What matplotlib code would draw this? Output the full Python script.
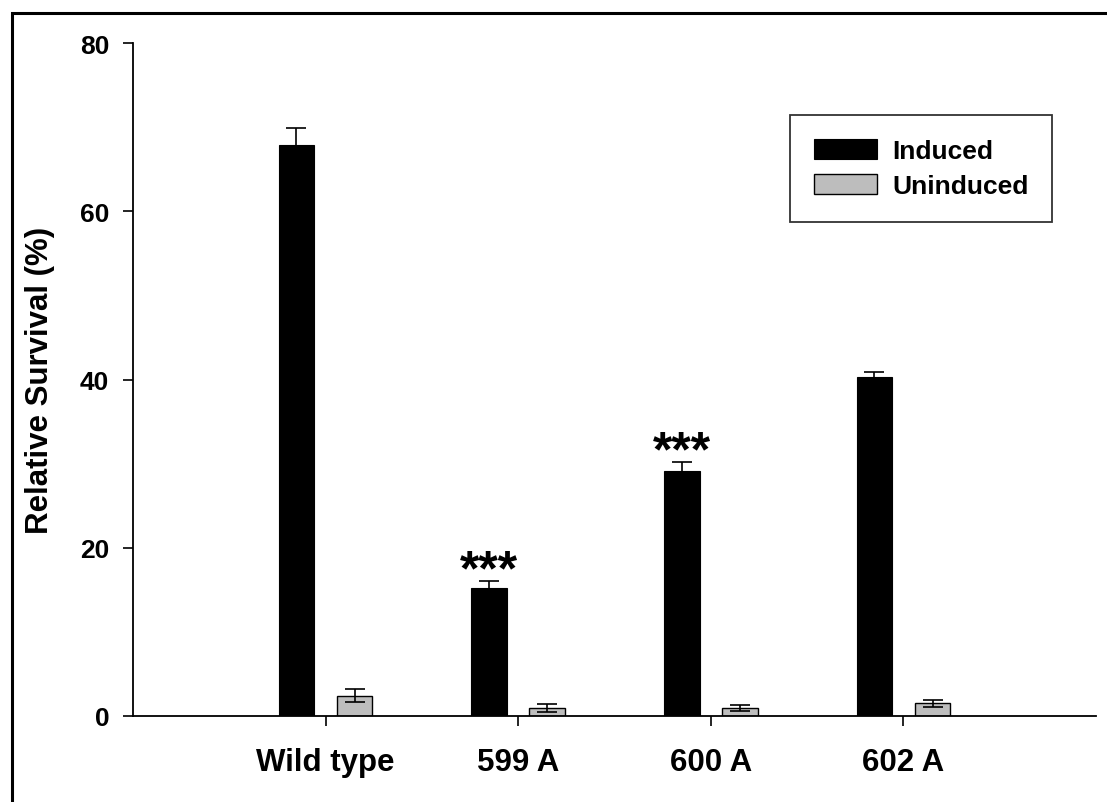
# Bar chart of relative survival (induced vs uninduced) with error bars.
import numpy as np
import matplotlib.pyplot as plt
from matplotlib.patches import Rectangle

plt.rcParams['font.family'] = ['Liberation Sans', 'DejaVu Sans']
plt.rcParams['font.weight'] = 'bold'

# data
strains = ['Wild type', '599 A', '600 A', '602 A']
induced = [67.9, 15.2, 29.1, 40.3]
induced_err = [2.0, 0.8, 1.1, 0.6]
uninduced = [2.4, 0.95, 0.95, 1.5]
uninduced_err = [0.75, 0.5, 0.4, 0.4]
stars = ['', '***', '***', '']

x = np.arange(len(strains))
w = 0.185   # bar width
off = 0.151 # offset of each bar from the tick

fig = plt.figure(figsize=(11.07, 8.03), dpi=100)
ax = fig.add_axes([0.1201, 0.1071, 0.8700, 0.8381])

ax.bar(x - off, induced, w, color='black', edgecolor='black', lw=0.8, label='Induced', zorder=2)
ax.bar(x + off, uninduced, w, color='#bdbdbd', edgecolor='black', lw=1.0, label='Uninduced', zorder=2)
ax.errorbar(x - off, induced, yerr=induced_err, fmt='none', ecolor='black', elinewidth=1.2, capsize=7.5, capthick=1.2, zorder=3)
ax.errorbar(x + off, uninduced, yerr=uninduced_err, fmt='none', ecolor='black', elinewidth=1.2, capsize=7.5, capthick=1.2, zorder=3)

# significance stars above the induced bars
for i, s in enumerate(stars):
    if s:
        ax.text(x[i] - off, induced[i] + induced_err[i] - 0.4, s, ha='center', va='baseline',
                fontsize=36, fontweight='bold')

ax.set_xlim(-1, 4)
ax.set_ylim(0, 80)
ax.set_yticks([0, 20, 40, 60, 80])
ax.set_xticks(x)
ax.set_xticklabels(strains, fontsize=22.5, fontweight='bold')
ax.tick_params(axis='y', labelsize=19, direction='out', length=7, width=1.2, pad=10)
ax.tick_params(axis='x', direction='out', length=7, width=1.2, pad=15)
ax.set_ylabel('Relative Survival (%)', fontsize=22.5, fontweight='bold', labelpad=18)

for side in ['top', 'right']:
    ax.spines[side].set_visible(False)
for side in ['left', 'bottom']:
    ax.spines[side].set_linewidth(1.3)

leg = ax.legend(loc='upper left', bbox_to_anchor=(790 / 1107, 1 - 116 / 803), bbox_transform=fig.transFigure,
                fontsize=19, frameon=True, fancybox=False, edgecolor='black',
                handlelength=2.4, handleheight=0.8, borderpad=0.9, labelspacing=0.42,
                handletextpad=0.57, borderaxespad=0)
leg.get_frame().set_linewidth(1.3)

# outer frame around the figure (cut off at right and bottom)
fig.add_artist(Rectangle((11.5 / 1107, -0.1), 1.2, 1.1 - 13.5 / 803, transform=fig.transFigure,
                         fill=False, edgecolor='black', lw=2.2, clip_on=False))

fig.savefig('out.png', dpi=100)
